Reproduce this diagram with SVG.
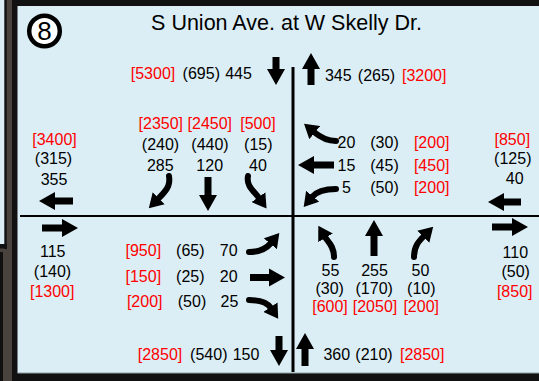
<svg xmlns="http://www.w3.org/2000/svg" width="539" height="381" viewBox="0 0 539 381">
<style>
text{font-family:"Liberation Sans",Arial,sans-serif;font-size:16px;text-anchor:middle;fill:#000}
.r{fill:#ff0000}
.arr{fill:#000}
.crv{fill:none;stroke:#000;stroke-width:6;stroke-linecap:round;marker-end:url(#hd)}
</style>
<defs>
<marker id="hd" markerUnits="userSpaceOnUse" markerWidth="14" markerHeight="17" viewBox="0 0 14 17" refX="1" refY="8.5" orient="auto">
<path d="M0,0 L14,8.5 L0,17 Z" fill="#000"/>
</marker>
</defs>
<g id="frame">
<rect x="0" y="0" width="539" height="381" fill="#4a423c"/>
<rect x="0" y="0" width="4.5" height="244" fill="#dbeef5"/>
<rect x="4.5" y="0" width="2.2" height="249" fill="#111"/>
<rect x="0" y="244" width="6.7" height="4.5" fill="#111"/>
<rect x="0" y="252" width="3" height="129" fill="#111"/>
<rect x="12" y="0" width="527" height="381" fill="#111"/>
<rect x="17.5" y="6" width="521.5" height="367" fill="#dbeef5"/>
<rect x="17.5" y="372.5" width="521.5" height="1" fill="#8fa2a8"/>
</g>
<g id="title">
<circle cx="44.5" cy="31" r="15.3" fill="#fff" stroke="#000" stroke-width="4.5"/>
<text x="44.5" y="40" style="font-size:26px">8</text>
<text x="286.5" y="30" style="font-size:21.5px">S Union Ave. at W Skelly Dr.</text>
</g>
<g id="connectors">
<line x1="20" y1="216" x2="539" y2="216" stroke="#000" stroke-width="2"/>
<line x1="293" y1="67" x2="293" y2="372" stroke="#000" stroke-width="3"/>
</g>
<g id="north-leg">
<polygon class="arr" points="272.5,57 279.5,57 279.5,69 285,69 276,85 267,69 272.5,69"/>
<polygon class="arr" points="311,53 320,69 314.5,69 314.5,85 307.5,85 307.5,69 302,69"/>
<text class="r" x="153" y="78.5">[5300]</text>
<text x="201.3" y="78.5">(695)</text>
<text x="238.5" y="78.5">445</text>
<text x="338.3" y="81">345</text>
<text x="376.5" y="81">(265)</text>
<text class="r" x="424.2" y="81">[3200]</text>
</g>
<g id="southbound">
<text class="r" x="160.8" y="128.5">[2350]</text>
<text class="r" x="209.8" y="128.5">[2450]</text>
<text class="r" x="258" y="128.5">[500]</text>
<text x="160.5" y="150">(240)</text>
<text x="210" y="150">(440)</text>
<text x="258.3" y="150">(15)</text>
<text x="160.3" y="170.5">285</text>
<text x="209.7" y="170.5">120</text>
<text x="258" y="170.5">40</text>
<path class="crv" d="M169 176 C171 186 165 192 158 199"/>
<polygon class="arr" points="204.5,177 211.5,177 211.5,195 217,195 208,211 199,195 204.5,195"/>
<path class="crv" d="M248 176 C246 186 254 191 259 198"/>
</g>
<g id="west-exit">
<text class="r" x="54.5" y="145">[3400]</text>
<text x="53.5" y="164">(315)</text>
<text x="54" y="185">355</text>
<polygon class="arr" points="73,197.5 55,197.5 55,192 39,201 55,210 55,204.5 73,204.5"/>
</g>
<g id="westbound">
<path class="crv" d="M336 141 C327 141 320 137 314 132"/>
<polygon class="arr" points="334,161.5 314,161.5 314,156 298,165 314,174 314,168.5 334,168.5"/>
<path class="crv" d="M336 189 C327 189 317 191 312 197"/>
<text x="346.5" y="148">20</text>
<text x="384.5" y="148">(30)</text>
<text class="r" x="431.7" y="148">[200]</text>
<text x="346.5" y="171">15</text>
<text x="384.5" y="171">(45)</text>
<text class="r" x="431.7" y="171">[450]</text>
<text x="346.5" y="193">5</text>
<text x="384.5" y="193">(50)</text>
<text class="r" x="431.7" y="193">[200]</text>
</g>
<g id="east-approach-total">
<text class="r" x="512.3" y="145">[850]</text>
<text x="512.8" y="164">(125)</text>
<text x="514.7" y="184">40</text>
<polygon class="arr" points="521,198.5 504,198.5 504,193 488,202 504,211 504,205.5 521,205.5"/>
</g>
<g id="west-approach-total">
<polygon class="arr" points="42,224.5 62,224.5 62,219 78,228 62,237 62,231.5 42,231.5"/>
<text x="52.7" y="256.7">115</text>
<text x="52.5" y="276.5">(140)</text>
<text class="r" x="52.2" y="296.7">[1300]</text>
</g>
<g id="eastbound">
<text class="r" x="143.3" y="256">[950]</text>
<text x="190.3" y="256">(65)</text>
<text x="228.7" y="256">70</text>
<text class="r" x="143.3" y="281.7">[150]</text>
<text x="190.3" y="281.7">(25)</text>
<text x="228.7" y="281.7">20</text>
<text class="r" x="144.7" y="306.5">[200]</text>
<text x="192" y="306.5">(50)</text>
<text x="229.5" y="306.5">25</text>
<path class="crv" d="M249 252 C259 252 266 249 271 243"/>
<polygon class="arr" points="250,274 269,274 269,268.5 285,277.5 269,286.5 269,281 250,281"/>
<path class="crv" d="M249 300 C259 300 267 302 271 308"/>
</g>
<g id="northbound">
<path class="crv" d="M334 257 C334 246 328 242 325 237"/>
<polygon class="arr" points="374,220 383,236 377.5,236 377.5,256 370.5,256 370.5,236 365,236"/>
<path class="crv" d="M414 257 C414 246 419 241 424 236"/>
<text x="330.5" y="275.5">55</text>
<text x="374.5" y="275.5">255</text>
<text x="420.5" y="275.5">50</text>
<text x="329.7" y="293.5">(30)</text>
<text x="374.2" y="293.5">(170)</text>
<text x="421.3" y="293.5">(10)</text>
<text class="r" x="330" y="311.5">[600]</text>
<text class="r" x="375" y="311.5">[2050]</text>
<text class="r" x="421.2" y="311.5">[200]</text>
</g>
<g id="east-exit">
<polygon class="arr" points="492,223.5 512,223.5 512,218 528,227 512,236 512,230.5 492,230.5"/>
<text x="515.3" y="257.5">110</text>
<text x="515.7" y="276.5">(50)</text>
<text class="r" x="514.7" y="296.7">[850]</text>
</g>
<g id="south-leg">
<polygon class="arr" points="275.5,336 282.5,336 282.5,350 288,350 279,366 270,350 275.5,350"/>
<polygon class="arr" points="305,333 314,349 308.5,349 308.5,366 301.5,366 301.5,349 296,349"/>
<text class="r" x="160" y="360">[2850]</text>
<text x="208.8" y="360">(540)</text>
<text x="246" y="360">150</text>
<text x="336.8" y="360">360</text>
<text x="374" y="360">(210)</text>
<text class="r" x="422.2" y="360">[2850]</text>
</g>
</svg>
